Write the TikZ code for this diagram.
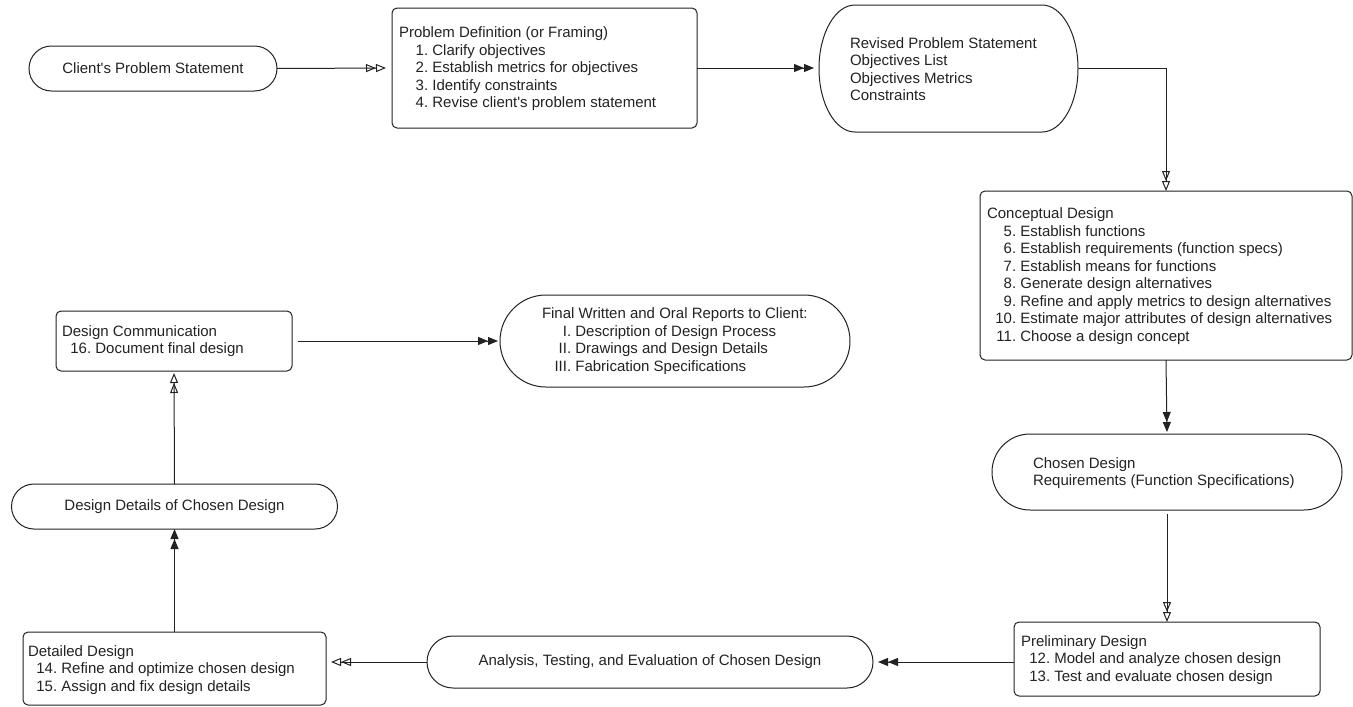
\documentclass[tikz,border=0pt]{standalone}
\usepackage{fontspec}
\usepackage{calc}
\setmainfont{Liberation Sans}
\newfontfamily\lsans{Liberation Sans}
\usetikzlibrary{arrows.meta,shapes.misc}
\newcommand\nitem[1]{\hspace*{\widthof{0}}\makebox[\widthof{10.}][r]{#1}\ }
\newcommand\ritem[1]{\hspace*{\widthof{0.}}\makebox[\widthof{III.}][r]{#1}\ }
\definecolor{ink}{HTML}{222222}
\tikzset{
  every node/.style={inner sep=0pt, outer sep=0pt, text=ink, font=\lsans\fontsize{15}{17.5}\selectfont},
  shapeline/.style={draw=ink, line width=1pt},
  box/.style={shapeline, rounded corners=5pt},
  term/.style={shapeline, rounded rectangle},
  holder/.style={draw=none, rectangle},
  txt/.style={align=left, anchor=west},
  conn/.style={draw=ink, line width=1pt},
  openA/.style={-{Triangle[open,length=10pt,width=8pt]Triangle[open,length=10pt,width=8pt]}},
  fillA/.style={-{Triangle[length=10pt,width=8pt]Triangle[length=10pt,width=8pt]}},
}
\newcommand\stadium[3]{\draw[shapeline] ([xshift=#2]#1.north west) -- ([xshift=-#2]#1.north east)
  arc[start angle=90,end angle=-90,x radius=#2,y radius=#3] -- ([xshift=#2]#1.south west)
  arc[start angle=270,end angle=90,x radius=#2,y radius=#3] -- cycle;}
\begin{document}
\begin{tikzpicture}[x=1pt,y=-1pt]
\useasboundingbox (0,0) rectangle (1353,707);
% top row
\node[term, minimum width=248pt, minimum height=45pt] (client) at (153,68.5) {Client's Problem Statement};
\node[box, minimum width=305pt, minimum height=120pt] (probdef) at (544.5,68) {};
\node[txt] (probdefT) at (399,69) {Problem Definition (or Framing)\\
\nitem{1.}Clarify objectives\\
\nitem{2.}Establish metrics for objectives\\
\nitem{3.}Identify constraints\\
\nitem{4.}Revise client's problem statement};
\node[holder, minimum width=259pt, minimum height=127pt] (revised) at (948.5,68.5) {};
\stadium{revised}{36pt}{63.5pt}
\node[txt] (revisedT) at (850,69) {Revised Problem Statement\\Objectives List\\Objectives Metrics\\Constraints};
% right column
\node[box, minimum width=372pt, minimum height=169pt] (concept) at (1166,275.5) {};
\node[txt] (conceptT) at (987,276) {Conceptual Design\\
\nitem{5.}Establish functions\\
\nitem{6.}Establish requirements (function specs)\\
\nitem{7.}Establish means for functions\\
\nitem{8.}Generate design alternatives\\
\nitem{9.}Refine and apply metrics to design alternatives\\
\nitem{10.}Estimate major attributes of design alternatives\\
\nitem{11.}Choose a design concept};
\node[term, minimum width=350pt, minimum height=76pt] (chosen) at (1167,472) {};
\node[txt] (chosenT) at (1033,473) {Chosen Design\\Requirements (Function Specifications)};
\node[box, minimum width=306pt, minimum height=74pt] (prelim) at (1167,659) {};
\node[txt] (prelimT) at (1021,660) {Preliminary Design\\
\nitem{12.}Model and analyze chosen design\\
\nitem{13.}Test and evaluate chosen design};
% bottom row
\node[term, minimum width=446pt, minimum height=52pt] (analysis) at (650,662) {Analysis, Testing, and Evaluation of Chosen Design};
\node[box, minimum width=303pt, minimum height=73pt] (detailed) at (174.5,668.5) {};
\node[txt] (detailedT) at (28,670) {Detailed Design\\
\nitem{14.}Refine and optimize chosen design\\
\nitem{15.}Assign and fix design details};
% left column
\node[term, minimum width=326pt, minimum height=45pt] (details) at (174.5,506.5) {Design Details of Chosen Design};
\node[box, minimum width=236pt, minimum height=60pt] (comm) at (174,341) {};
\node[txt] (commT) at (62,341) {Design Communication\\
\nitem{16.}Document final design};
\node[term, minimum width=350pt, minimum height=92pt] (final) at (675,341) {};
\node[txt] (finalT) at (542,341) {Final Written and Oral Reports to Client:\\
\ritem{I.}Description of Design Process\\
\ritem{II.}Drawings and Design Details\\
\ritem{III.}Fabrication Specifications};
% connectors
\draw[conn,openA,shorten >=6pt] (client.east) -- (probdef.west);
\draw[conn,fillA,shorten >=5pt] (probdef.east) -- (probdef.east -| revised.west);
\draw[conn,openA] (revised.east) -| (concept.north);
\draw[conn,fillA,shorten >=2pt] (concept.south) -- (chosen.north);
\draw[conn,openA,shorten <=4pt] (chosen.south) -- (prelim.north);
\draw[conn,fillA,shorten >=5pt] (analysis.east -| prelim.west) -- (analysis.east);
\draw[conn,openA,shorten >=5pt] (analysis.west) -- (analysis.west -| detailed.east);
\draw[conn,fillA] (detailed.north) -- (details.south);
\draw[conn,openA,shorten >=2pt] (details.north) -- (comm.south);
\draw[conn,fillA,shorten <=6pt,shorten >=2pt] (comm.east) -- (final.west);
\end{tikzpicture}
\end{document}
